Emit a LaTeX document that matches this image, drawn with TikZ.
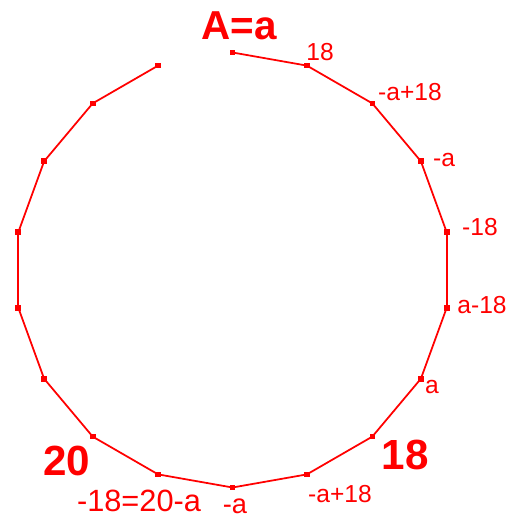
\documentclass[tikz,border=0pt]{standalone}
\usepackage{fontspec}
\setmainfont{Liberation Sans}
\usetikzlibrary{positioning}

\begin{document}
\begin{tikzpicture}[
  x=0.02cm, y=-0.02cm,
  dot/.style={fill=red, inner sep=0pt, minimum size=3.2pt},
  edge/.style={draw=red, line width=1pt},
  lbl/.style={text=red, inner sep=0pt, font=\fontsize{14}{16}\selectfont},
  lblbig/.style={lbl, font=\fontsize{17.5}{20}\selectfont},
  big/.style={lbl, font=\fontsize{24}{28}\selectfont\bfseries}
]
\useasboundingbox (0,0) rectangle (518,519);
% points round the circle, 20 degrees apart
\foreach \i in {0,...,17}
  \node[dot] (p\i) at ({232.5+217.5*cos(90-20*\i)}, {270-217.5*sin(90-20*\i)}) {};
\foreach \i [evaluate=\i as \j using int(\i+1)] in {0,...,16}
  \draw[edge] (p\i.center) -- (p\j.center);

\node[big, font=\fontsize{23}{27}\selectfont\bfseries] (title) at (239,26) {A=a};
\node[lbl] (l1) at (320,52) {18};
\node[lbl] (l2) at (410,92) {-a+18};
\node[lbl] (l3) at (444,160) {-a};
\node[lbl] (l4) at (480,227) {-18};
\node[lbl] (l5) at (482,305) {a-18};
\node[lbl] (l6) at (432,387) {a};
\node[big] (l7) at (405,455) {18};
\node[lbl] (l8) at (340,494) {-a+18};
\node[lbl, font=\fontsize{15.5}{18}\selectfont] (l9) at (235,506) {-a};
\node[lblbig] (l10) at (139,501) {-18=20-a};
\node[big] (l11) at (67,461) {20};
\end{tikzpicture}
\end{document}
